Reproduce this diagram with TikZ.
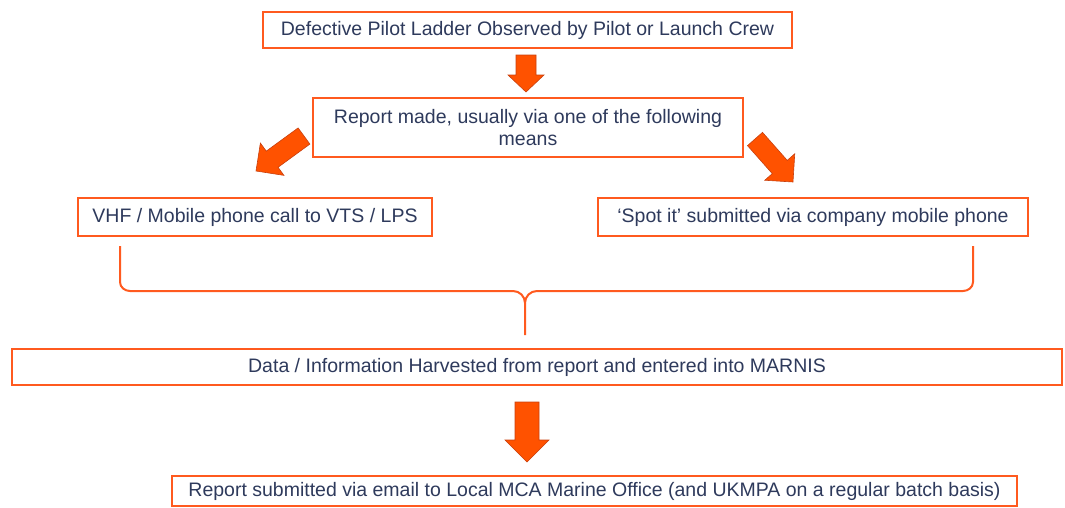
\documentclass[tikz,border=0pt]{standalone}
\usepackage{fontspec}
\setmainfont{Liberation Sans}
\usetikzlibrary{calc}
\definecolor{boxorange}{HTML}{FF5A1F}
\definecolor{arrfill}{HTML}{FF5200}
\definecolor{arrline}{HTML}{C8400F}
\definecolor{txt}{HTML}{2E3A5C}
\tikzset{
  box/.style={draw=boxorange, line width=2.6pt, fill=white, text=txt, inner sep=0pt,
    font=\fontsize{19.5}{22}\selectfont, align=center},
  blockarrow/.style={fill=arrfill, draw=arrline, line width=0.6pt, line join=miter},
  bracesty/.style={draw=boxorange, line width=2pt}
}
\newcommand\barrow[5]{%
  \coordinate (qq) at ($(#2)!#5!(#1)$);
  \filldraw[blockarrow]
    ($(#1)!#3!90:(#2)$) --
    ($(qq)!#3!90:(#2)$) --
    ($(qq)!#4!90:(#2)$) --
    (#2) --
    ($(qq)!#4!-90:(#2)$) --
    ($(qq)!#3!-90:(#2)$) --
    ($(#1)!#3!-90:(#2)$) -- cycle;}
\begin{document}
\begin{tikzpicture}[x=1pt,y=-1pt]
\useasboundingbox (0,0) rectangle (1065,507);
\node[box, minimum width=529pt, minimum height=36pt] (b1) at (527.5,30) {Defective Pilot Ladder Observed by Pilot or Launch Crew};
\node[box, minimum width=430pt, minimum height=59pt] (b2) at (528,127.5) {Report made, usually via one of the following\\means};
\node[box, minimum width=354pt, minimum height=38pt] (b3) at (255,217) {VHF / Mobile phone call to VTS / LPS};
\node[box, minimum width=430pt, minimum height=38pt] (b4) at (813,217) {‘Spot it’ submitted via company mobile phone};
\node[box, minimum width=1050pt, minimum height=36pt] (b5) at (537,367) {Data / Information Harvested from report and entered into MARNIS};
\node[box, minimum width=845pt, minimum height=30pt] (b6) at (594.5,491) {Report submitted via email to Local MCA Marine Office (and UKMPA on a regular batch basis)};
% arrows
\coordinate (a1s) at (526,55);
\coordinate (a1e) at (526,92);
\barrow{a1s}{a1e}{10pt}{18pt}{17pt}
\coordinate (a2s) at (304,136);
\coordinate (a2e) at (256,171);
\barrow{a2s}{a2e}{10pt}{20pt}{20pt}
\coordinate (a3s) at (755,139);
\coordinate (a3e) at (793,182);
\barrow{a3s}{a3e}{10pt}{20pt}{20pt}
\coordinate (a4s) at (527,402);
\coordinate (a4e) at (527,462);
\barrow{a4s}{a4e}{12pt}{22pt}{22pt}
% brace
\coordinate (brl) at (120,246);
\coordinate (brr) at (973,246);
\coordinate (brm) at (525,335);
\draw[bracesty] (brl) -- (120,282) to[out=-90,in=180] (130,291) -- (513,291)
  to[out=0,in=90] (525,303) -- (brm);
\draw[bracesty] (brr) -- (973,282) to[out=-90,in=0] (963,291) -- (537,291)
  to[out=180,in=90] (525,303);
\end{tikzpicture}
\end{document}
